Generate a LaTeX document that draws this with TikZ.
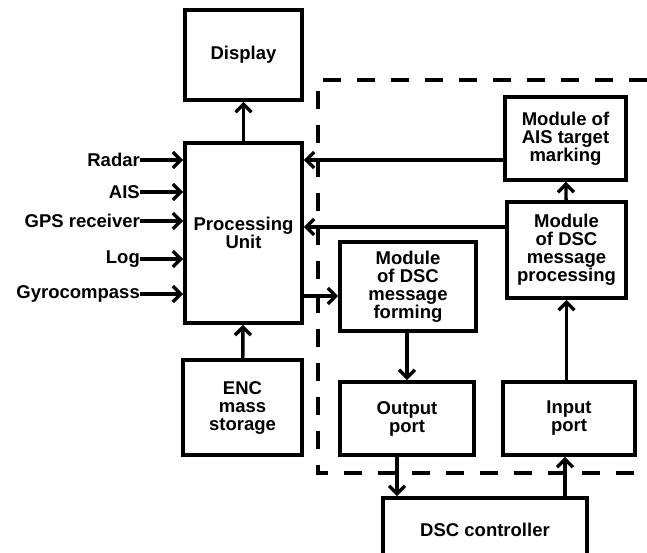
\documentclass[tikz,border=0pt]{standalone}
\usepackage{fontspec}
\setmainfont{Liberation Sans}
\usetikzlibrary{arrows.meta,calc}

\begin{document}
\begin{tikzpicture}[
    x=1pt, y=-1pt,
    every node/.style={font=\bfseries\fontsize{18.5}{18}\selectfont, align=center, inner sep=2pt},
    block/.style={draw, rectangle, line width=3.6pt},
    src/.style={anchor=east, inner sep=0pt},
    arr/.style={line width=3.4pt, -{Straight Barb[length=8pt,width=16pt]}},
    frame/.style={line width=3.6pt, dash pattern=on 18pt off 16pt}
]
\useasboundingbox (0,0) rectangle (647,553);

% left part
\node[block, minimum width=117pt, minimum height=90pt] (display) at (243.5,55) {Display};
\node[block, minimum width=117pt, minimum height=180pt] (pu) at (243.5,233) {Processing\\Unit};
\node[block, minimum width=119pt, minimum height=95pt] (enc) at (242.5,407.5) {ENC\\mass\\storage};

\node[src] (radar) at (140,160) {Radar};
\node[src] (ais) at (140,192) {AIS};
\node[src] (gps) at (140,221) {GPS receiver};
\node[src] (log) at (140,259) {Log};
\node[src] (gyro) at (140,294) {Gyrocompass};

% DSC part
\node[block, minimum width=121pt, minimum height=83pt] (aismark) at (565.5,138.5) {Module of\\AIS target\\marking};
\node[block, minimum width=119pt, minimum height=96pt] (dscproc) at (566.5,250) {Module\\of DSC\\message\\processing};
\node[block, minimum width=136pt, minimum height=89pt] (forming) at (408,286.5) {Module\\of DSC\\message\\forming};
\node[block, minimum width=134pt, minimum height=73pt] (output) at (407,418.5) {Output\\port};
\node[block, minimum width=132pt, minimum height=73pt] (input) at (569,418.5) {Input\\port};
\node[block, minimum width=204pt, minimum height=64pt] (dscctrl) at (485,530) {DSC controller};

\draw[frame] (647,80) -- (318,80) -- (318,473) -- (647,473);

% connectors
\draw[arr] (pu) -- (display);
\draw[arr] (enc) -- (pu);
\foreach \s in {radar,ais,gps,log,gyro}
    \draw[arr] (\s.east) -- (\s.east -| pu.west);

\coordinate (aisout) at ($(aismark.west)+(0,21.5)$);
\coordinate (procout) at ($(dscproc.west)+(0,-23)$);
\coordinate (formin) at ($(forming.west)+(0,9.5)$);
\draw[arr] (aisout) -- (aisout -| pu.east);
\draw[arr] (procout) -- (procout -| pu.east);
\draw[arr] (formin -| pu.east) -- (formin);

\draw[arr] (dscproc) -- (aismark);
\draw[arr] (forming.south -| output.north) -- (output.north);
\draw[arr] (dscproc.south |- input.north) -- (dscproc.south);

\coordinate (outdown) at ($(output.south)+(-10,0)$);
\coordinate (inup) at ($(input.south)+(-4,0)$);
\draw[arr] (outdown) -- (outdown |- dscctrl.north);
\draw[arr] (inup |- dscctrl.north) -- (inup);
\end{tikzpicture}
\end{document}
